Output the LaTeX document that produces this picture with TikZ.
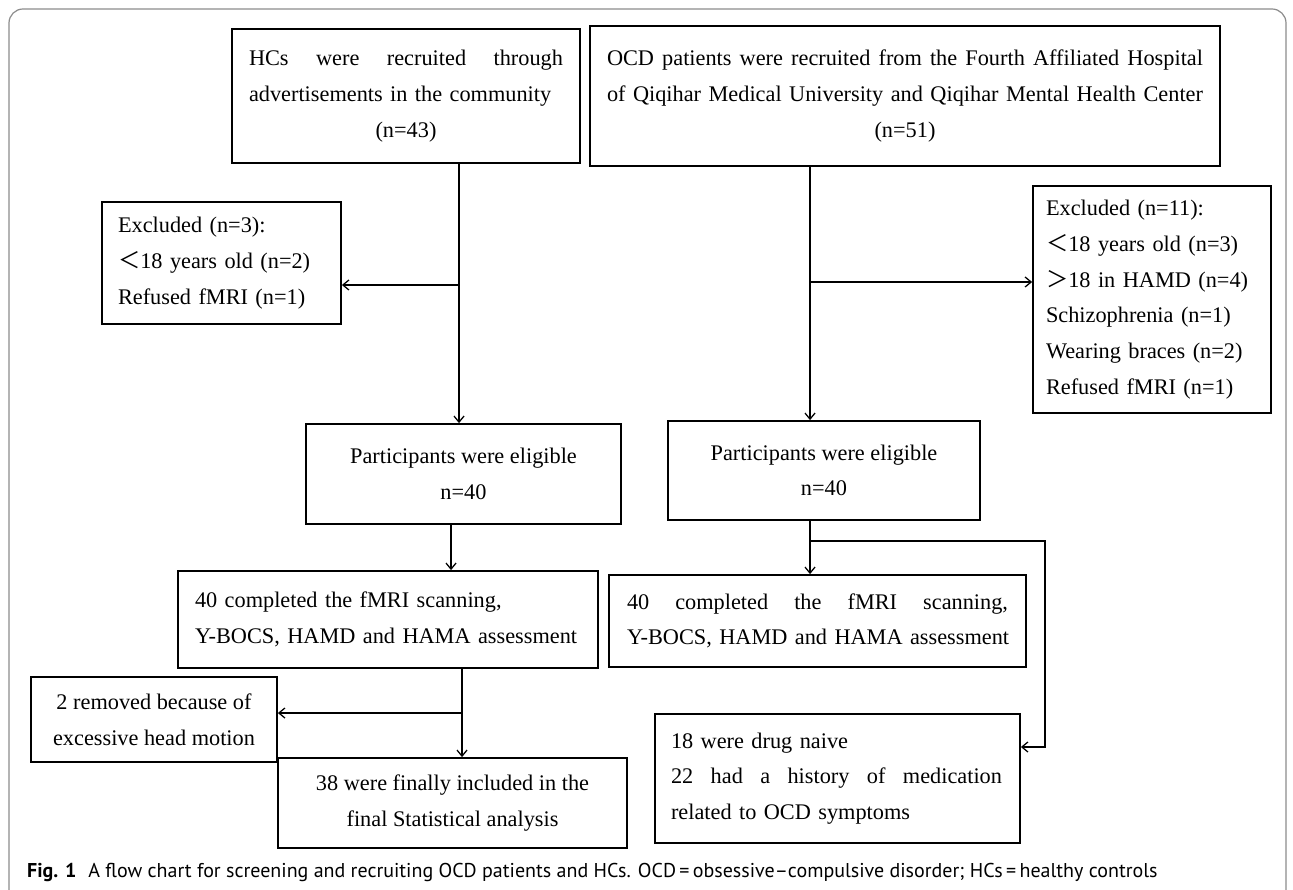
\documentclass[tikz,border=0pt]{standalone}
\usepackage{fontspec}
\setmainfont{Liberation Serif}
\newfontfamily\capfont{PT Sans}
\newfontfamily\cjk{Noto Sans CJK SC}
\usetikzlibrary{arrows.meta,calc}
\begin{document}
\begin{tikzpicture}[x=1pt,y=-1pt,
 box/.style={draw, line width=1.8pt, rectangle, inner sep=0pt, font=\fontsize{22.3}{35.7}\selectfont},
 arr/.style={line width=1.3pt, -{Straight Barb[length=6pt,width=10pt,line width=1.3pt]}},
 frame/.style={draw=black!45, line width=1.2pt, rounded corners=14pt}]
\clip (0,0) rectangle (1293,890);
\draw[frame] (9,9) rectangle (1286,910);

\node[box, minimum width=348pt, minimum height=134pt, text width=314pt, align=left] (hc) at (406,96)
 {\makebox[314pt]{HCs\hfill were\hfill recruited\hfill through}\\\mbox{advertisements in the community}\\\makebox[314pt]{(n=43)}};
\node[box, minimum width=630pt, minimum height=140pt, text width=596pt, align=left] (ocd) at (905,96)
 {\makebox[596pt]{OCD\hfill patients\hfill were\hfill recruited\hfill from\hfill the\hfill Fourth\hfill Affiliated\hfill Hospital}\\\makebox[596pt]{of\hfill Qiqihar\hfill Medical\hfill University\hfill and\hfill Qiqihar\hfill Mental\hfill Health\hfill Center}\\\makebox[596pt]{(n=51)}};
\node[box, minimum width=239pt, minimum height=122pt, text width=207pt, align=left] (hcex) at (221.5,263)
 {\mbox{Excluded (n=3):}\\\mbox{{\cjk ＜}18 years old (n=2)}\\\mbox{Refused fMRI (n=1)}};
\node[box, minimum width=238pt, minimum height=227pt, text width=212pt, align=left] (ocdex) at (1152,299.5)
 {\mbox{Excluded (n=11):}\\\mbox{{\cjk ＜}18 years old (n=3)}\\\mbox{{\cjk ＞}18 in HAMD (n=4)}\\\mbox{Schizophrenia (n=1)}\\\mbox{Wearing braces (n=2)}\\\mbox{Refused fMRI (n=1)}};
\node[box, minimum width=315pt, minimum height=100pt, align=center] (hcp) at (463.5,474)
 {Participants were eligible\\n=40};
\node[box, minimum width=312pt, minimum height=99pt, align=center] (ocdp) at (824,470.5)
 {Participants were eligible\\n=40};
\node[box, minimum width=420pt, minimum height=97pt, text width=386pt, align=left] (hcc) at (388,619.5)
 {\mbox{40 completed the fMRI scanning,}\\\mbox{Y-BOCS, HAMD and HAMA assessment}};
\node[box, minimum width=417pt, minimum height=92pt, text width=381pt, align=left] (ocdc) at (817.5,621)
 {\makebox[381pt]{40\hfill completed\hfill the\hfill fMRI\hfill scanning,}\\\mbox{Y-BOCS, HAMD and HAMA assessment}};
\node[box, minimum width=365pt, minimum height=129pt, text width=333pt, align=left] (ocdd) at (837.5,778.5)
 {\mbox{18 were drug naive}\\\makebox[331pt]{22\hfill had\hfill a\hfill history\hfill of\hfill medication}\\\mbox{related to OCD symptoms}};
\node[box, minimum width=246pt, minimum height=85pt, align=center] (hcr) at (154,719.5)
 {2 removed because of\\excessive head motion};
\node[box, minimum width=349pt, minimum height=90pt, align=center] (hcf) at (452.5,803)
 {38 were finally included in the\\final Statistical analysis};

\coordinate (hx1) at (459,285);
\coordinate (ox1) at (810,282);
\coordinate (hx2) at (451,0);
\coordinate (ox2) at (810,541);
\coordinate (ox3) at (1045,541);
\coordinate (ox4) at (1045,747);
\coordinate (hx3) at (462,713);

\draw[arr] (hc.south -| hx1) -- (hcp.north -| hx1);
\draw[arr] (hx1) -- (hcex.east |- hx1);
\draw[arr] (ocd.south -| ox1) -- (ocdp.north -| ox1);
\draw[arr] (ox1) -- (ocdex.west |- ox1);
\draw[arr] (hcp.south -| hx2) -- (hcc.north -| hx2);
\draw[arr] (ocdp.south -| ox2) -- (ocdc.north -| ox2);
\draw[arr] (ox2) -- (ox3) -- (ox4) -- (ocdd.east |- ox4);
\draw[arr] (hcc.south -| hx3) -- (hcf.north -| hx3);
\draw[arr] (hx3) -- (hcr.east |- hx3);

\node[anchor=base west, inner sep=0pt, font=\capfont\fontsize{20}{24}\selectfont] (cap) at (27,877)
 {\textbf{Fig. 1}\hspace{0.6em}A flow chart for screening and recruiting OCD patients and HCs. OCD\,=\,obsessive–compulsive disorder; HCs\,=\,healthy controls};
\end{tikzpicture}
\end{document}
